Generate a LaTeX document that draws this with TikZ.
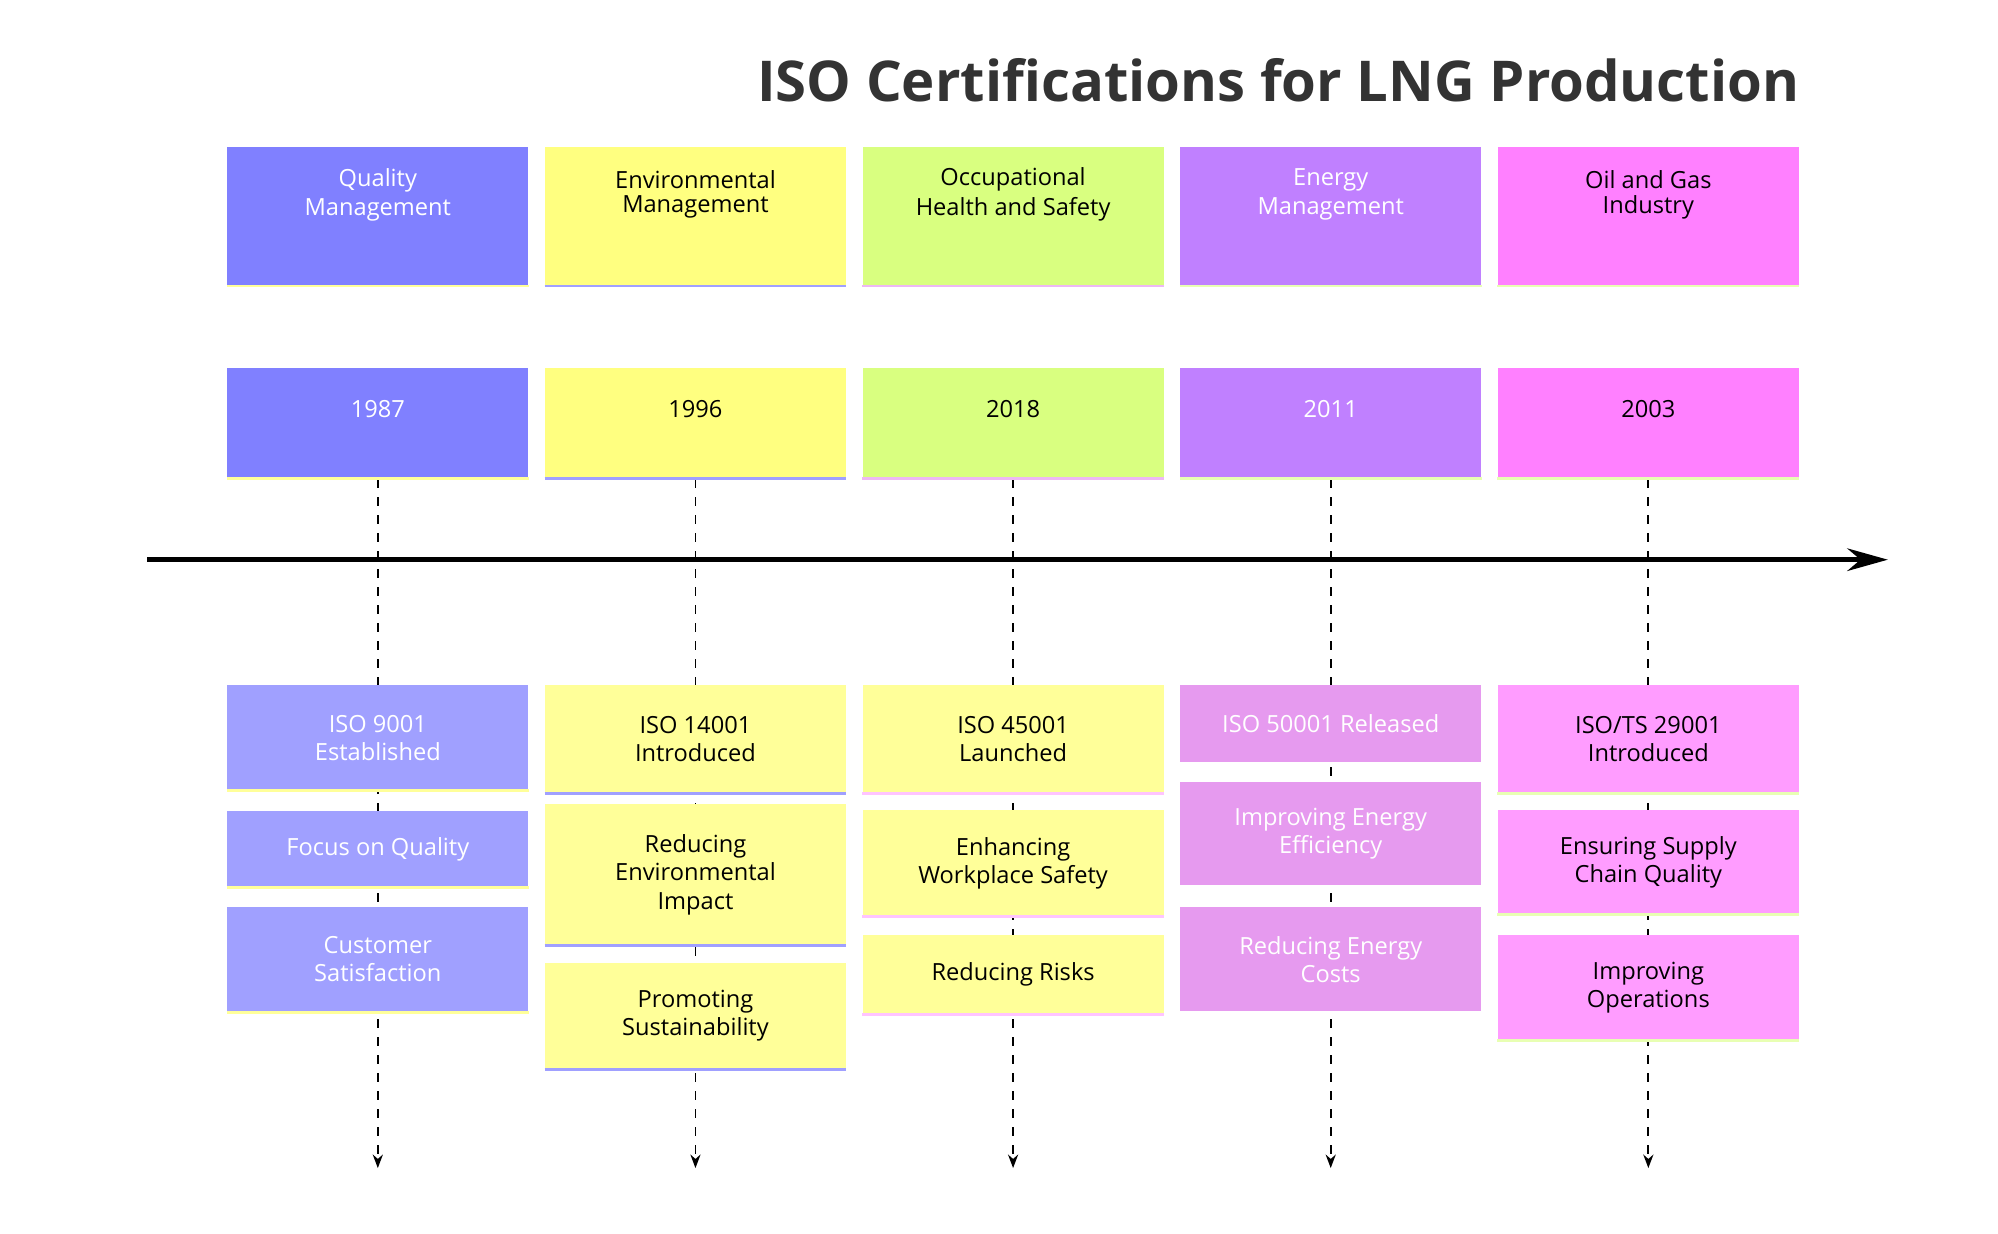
\documentclass[tikz,border=0pt]{standalone}
\usepackage{fontspec}
\setmainfont{Open Sans}
\usetikzlibrary{arrows.meta,calc}
\definecolor{qblue}{HTML}{8080FF}
\definecolor{qbluel}{HTML}{A0A0FF}
\definecolor{eyell}{HTML}{FFFF80}
\definecolor{eyelll}{HTML}{FFFF99}
\definecolor{ogreen}{HTML}{D9FF80}
\definecolor{epurp}{HTML}{C080FF}
\definecolor{epurpl}{HTML}{E69AEF}
\definecolor{opink}{HTML}{FF80FF}
\definecolor{opinkl}{HTML}{FF9CFF}
\tikzset{
    >=Stealth,
    tl/.style={
        box/.append style={draw=none,rectangle,minimum width=4.7cm,inner sep=0pt},
        txt/.append style={align=center,font=\fontsize{10.5}{12.5}\selectfont,inner sep=0pt},
        guide/.append style={draw,thick,dashed,dash pattern=on 4pt off 4pt,-{Stealth[length=6pt]}},
        every edge/.append style={draw,thick}
    }
}
% box with its text: name, centre y, height, fill, text colour, text, edge colour
\newcommand{\tlbox}[8]{
    \node[box,fill=#4,minimum height=#3*0.02cm] (#1) at (#2) {};
    \draw[#8,line width=1.2pt] (#1.south west) -- (#1.south east);
    \node[txt,text=#5] (#1t) at (#1.center) {#6};
}
\begin{document}
\begin{tikzpicture}[tl,x=0.02cm,y=-0.02cm]
    \useasboundingbox (0,0) rectangle (1560,963);
    \node[font=\fontsize{25}{30}\selectfont\bfseries,text=black!80] (title) at (998,63) {ISO Certifications for LNG Production};
    % guides
    \foreach \c in {295,543,791,1039,1287}{
        \coordinate (top\c) at (\c,374);
        \coordinate (end\c) at (\c,912);
        \draw[guide] (top\c) -- (end\c);
    }
    \coordinate (tstart) at (115,437);
    \coordinate (tend) at (1474,437);
    \draw[line width=2.2pt,-{Stealth[length=18pt,width=10pt]}] (tstart) -- (tend);
    % headers
    \tlbox{h1}{295,169}{108}{qblue}{white}{\raisebox{22pt}{\shortstack{Quality\\Management}}}{}{eyelll}
    \tlbox{h2}{543,169}{108}{eyell}{black}{\raisebox{22pt}{\shortstack{Environmental\\Management}}}{}{qbluel}
    \tlbox{h3}{791,169}{108}{ogreen}{black}{\raisebox{22pt}{\shortstack{Occupational\\Health and Safety}}}{}{epurpl!70}
    \tlbox{h4}{1039,169}{108}{epurp}{white}{\raisebox{22pt}{\shortstack{Energy\\Management}}}{}{ogreen!60}
    \tlbox{h5}{1287,169}{108}{opink}{black}{\raisebox{22pt}{\shortstack{Oil and Gas\\Industry}}}{}{ogreen!60}
    % years
    \tlbox{y1}{295,330}{86}{qblue}{white}{\raisebox{12pt}{1987}}{}{eyelll}
    \tlbox{y2}{543,330}{86}{eyell}{black}{\raisebox{12pt}{1996}}{}{qbluel}
    \tlbox{y3}{791,330}{86}{ogreen}{black}{\raisebox{12pt}{2018}}{}{epurpl!70}
    \tlbox{y4}{1039,330}{86}{epurp}{white}{\raisebox{12pt}{2011}}{}{ogreen!60}
    \tlbox{y5}{1287,330}{86}{opink}{black}{\raisebox{12pt}{2003}}{}{ogreen!60}
    % events
    \tlbox{a1}{295,576}{82}{qbluel}{white}{ISO 9001\\Established}{}{eyelll}
    \tlbox{a2}{295,663}{59}{qbluel}{white}{Focus on Quality}{}{eyelll}
    \tlbox{a3}{295,749}{82}{qbluel}{white}{Customer\\Satisfaction}{}{eyelll}
    \tlbox{b1}{543,577}{84}{eyelll}{black}{ISO 14001\\Introduced}{}{qbluel}
    \tlbox{b2}{543,683}{110}{eyelll}{black}{Reducing\\Environmental\\Impact}{}{qbluel}
    \tlbox{b3}{543,793}{83}{eyelll}{black}{Promoting\\Sustainability}{}{qbluel}
    \tlbox{c1}{791,577}{84}{eyelll}{black}{ISO 45001\\Launched}{}{opinkl!60}
    \tlbox{c2}{791,674}{83}{eyelll}{black}{Enhancing\\Workplace Safety}{}{opinkl!60}
    \tlbox{c3}{791,761}{62}{eyelll}{black}{Reducing Risks}{}{opinkl!60}
    \tlbox{d1}{1039,565}{61}{epurpl}{white}{ISO 50001 Released}{}{white}
    \tlbox{d2}{1039,651}{81}{epurpl}{white}{Improving Energy\\Efficiency}{}{white}
    \tlbox{d3}{1039,749}{82}{epurpl}{white}{Reducing Energy\\Costs}{}{white}
    \tlbox{e1}{1287,577}{84}{opinkl}{black}{ISO/TS 29001\\Introduced}{}{ogreen!60}
    \tlbox{e2}{1287,673}{81}{opinkl}{black}{Ensuring Supply\\Chain Quality}{}{ogreen!60}
    \tlbox{e3}{1287,771}{82}{opinkl}{black}{Improving\\Operations}{}{ogreen!60}
\end{tikzpicture}
\end{document}
